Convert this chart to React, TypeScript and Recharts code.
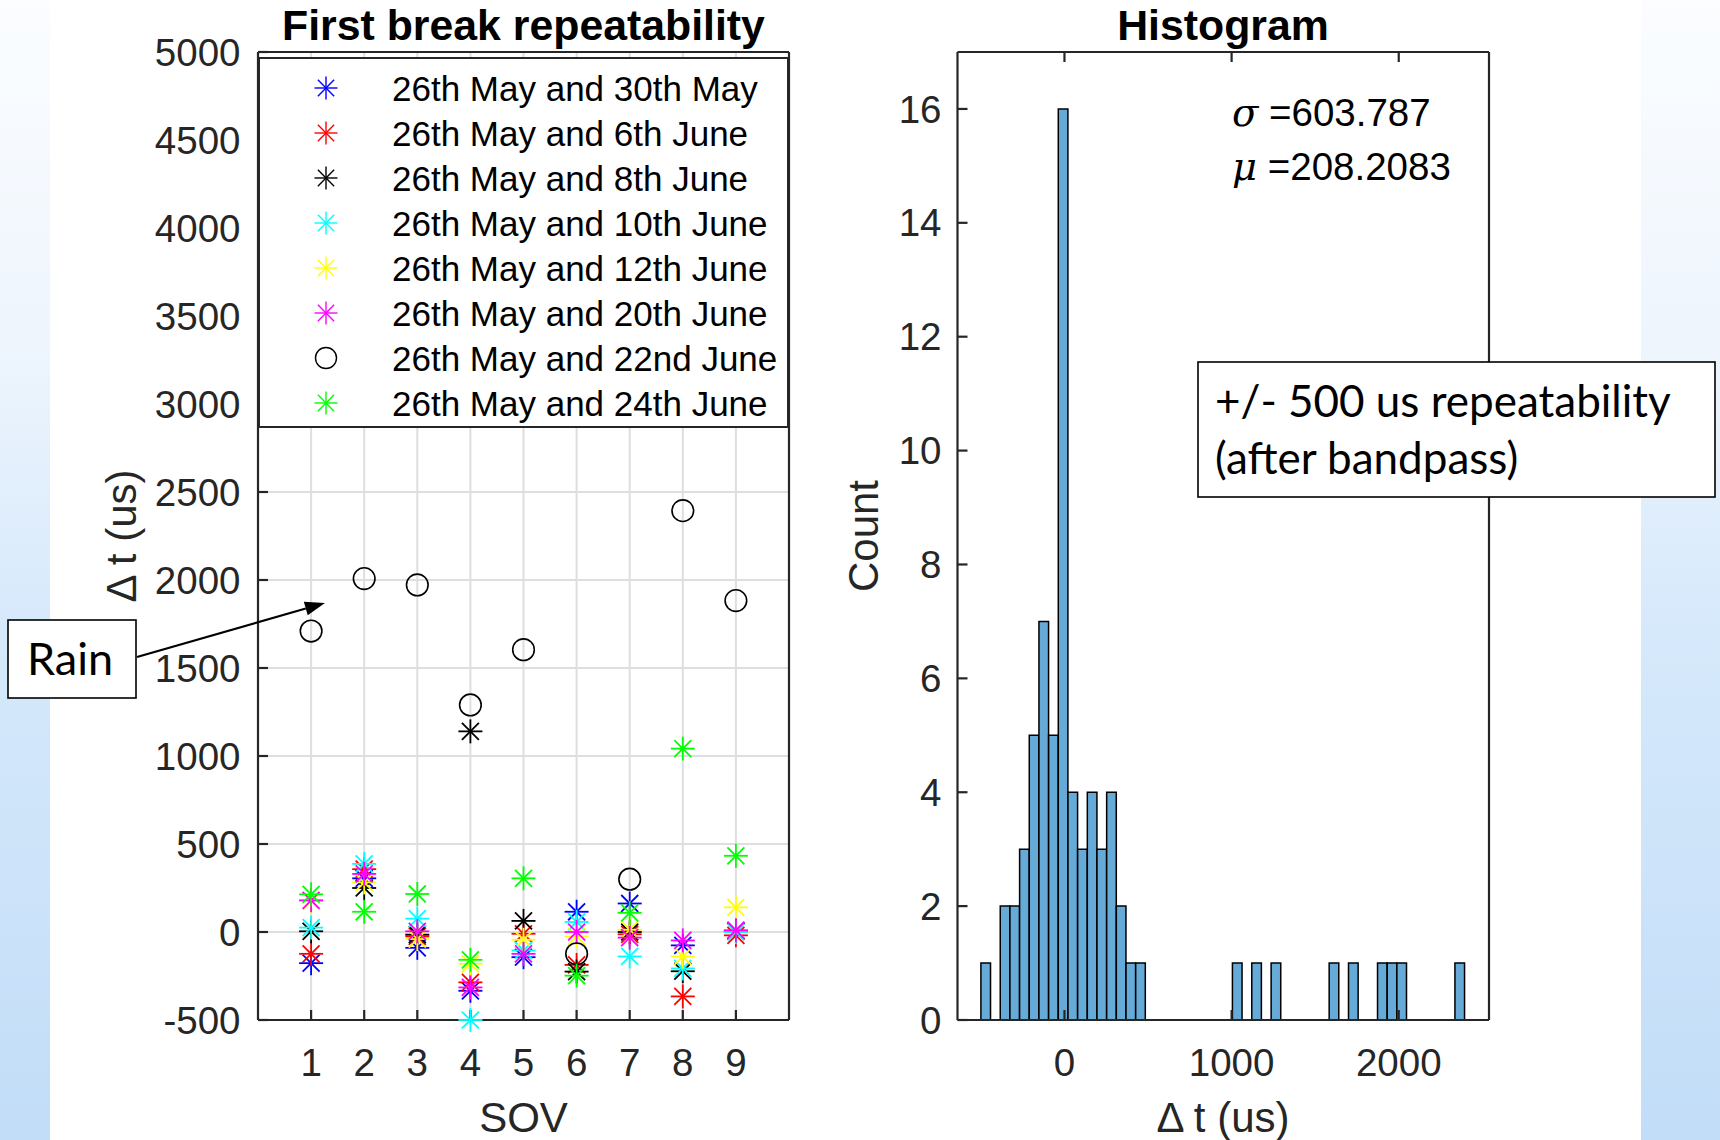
import {
  ScatterChart,
  Scatter,
  BarChart,
  Bar,
  XAxis,
  YAxis,
  CartesianGrid,
  Legend,
} from "recharts";

// SOV index on the x axis
const sovs = [1, 2, 3, 4, 5, 6, 7, 8, 9];

// first break differences against the 26th May survey (us)
const may30 = [-177, 305, -90, -334, -143, 115, 162, -76, 4];
const jun6 = [-124, 357, -25, -286, -10, -187, -13, -366, -19];
const jun8 = [4, 250, -15, 1140, 63, -225, 0, -223, 6];
const jun10 = [25, 387, 76, -500, -105, 57, -139, -207, 0];
const jun12 = [175, 282, -40, -181, -44, -25, 13, -139, 140];
const jun20 = [180, 330, 4, -315, -124, 0, -32, -48, 10];
const jun22 = [1710, 2008, 1972, 1290, 1604, -124, 300, 2394, 1883];
const jun24 = [214, 115, 216, -158, 305, -248, 109, 1042, 433];

const dtTicks = [-500, 0, 500, 1000, 1500, 2000, 2500, 3000, 3500, 4000, 4500, 5000];

// histogram of all differences, 50 bins between min and max
const binStart = -500;
const binWidth = 57.88;
const histCounts = [
  1, 0, 2, 2, 3, 5, 7, 5, 16, 4,
  3, 4, 3, 4, 2, 1, 1, 0, 0, 0,
  0, 0, 0, 0, 0, 0, 1, 0, 1, 0,
  1, 0, 0, 0, 0, 0, 1, 0, 1, 0,
  0, 1, 1, 1, 0, 0, 0, 0, 0, 1,
];
const countTicks = [0, 2, 4, 6, 8, 10, 12, 14, 16];
const histTicks = [0, 1000, 2000];
const histDomain: [number, number] = [-640, 2540];
const sigma = "603.787";
const mu = "208.2083";

const series = [
  { name: "26th May and 30th May", color: "#0000ff", values: may30, circle: false },
  { name: "26th May and 6th June", color: "#ff0000", values: jun6, circle: false },
  { name: "26th May and 8th June", color: "#000000", values: jun8, circle: false },
  { name: "26th May and 10th June", color: "#00ffff", values: jun10, circle: false },
  { name: "26th May and 12th June", color: "#ffff00", values: jun12, circle: false },
  { name: "26th May and 20th June", color: "#ff00ff", values: jun20, circle: false },
  { name: "26th May and 22nd June", color: "#000000", values: jun22, circle: true },
  { name: "26th May and 24th June", color: "#00ff00", values: jun24, circle: false },
];

const histData = histCounts.map((count, i) => ({
  x: binStart + (i + 0.5) * binWidth,
  count,
}));

const FONT = "'Liberation Sans', Arial, Helvetica, sans-serif";
const NOTE_FONT = "Lato, 'Open Sans', sans-serif";
const INK = "#262626";
const axisLine = { stroke: INK, strokeWidth: 2.2 };
const tickLine = { stroke: INK, strokeWidth: 2.2 };
const tickText = { fontSize: 38.5, fill: INK, fontFamily: FONT };
const blank = () => "";

// histogram plot spans 957.5..1489 on the page
const histPlotWidth = 531.5;
const histBarSize =
  (binWidth * histPlotWidth) / (histDomain[1] - histDomain[0]) - 0.05;

function Asterisk({ cx, cy, color, r = 12, w = 1.8 }: any) {
  const d = r * 0.7071;
  return (
    <g stroke={color} strokeWidth={w} fill="none">
      <line x1={cx - r} y1={cy} x2={cx + r} y2={cy} />
      <line x1={cx} y1={cy - r} x2={cx} y2={cy + r} />
      <line x1={cx - d} y1={cy - d} x2={cx + d} y2={cy + d} />
      <line x1={cx - d} y1={cy + d} x2={cx + d} y2={cy - d} />
    </g>
  );
}

function Ring({ cx, cy }: any) {
  return <circle cx={cx} cy={cy} r={10.8} fill="none" stroke="#000" strokeWidth={1.6} />;
}

function LegendBox() {
  return (
    <div
      style={{
        width: 531,
        height: 371,
        boxSizing: "border-box",
        border: `2px solid ${INK}`,
        background: "#fff",
        paddingTop: 6.5,
        fontFamily: FONT,
        fontSize: 35,
        color: "#000",
      }}
    >
      {series.map((s) => (
        <div key={s.name} style={{ display: "flex", alignItems: "center", height: 45 }}>
          <svg width={26} height={26} style={{ marginLeft: 53, flex: "none" }}>
            {s.circle ? (
              <circle cx={13} cy={13} r={10.5} fill="none" stroke="#000" strokeWidth={1.4} />
            ) : (
              <Asterisk cx={13} cy={13} r={11.5} w={1.4} color={s.color} />
            )}
          </svg>
          <span style={{ marginLeft: 53, whiteSpace: "nowrap", lineHeight: "45px" }}>{s.name}</span>
        </div>
      ))}
    </div>
  );
}

// inward ticks: negative tickSize, with tickMargin pushing labels back outside
function RepeatabilityPlot() {
  return (
    <ScatterChart width={860} height={1140} margin={{ top: 51, right: 70, bottom: 0, left: 0 }}>
      <CartesianGrid xAxisId="b" yAxisId="l" stroke="#dedede" strokeWidth={2} />
      <XAxis
        xAxisId="b"
        type="number"
        dataKey="x"
        domain={[0, 10]}
        ticks={sovs}
        interval={0}
        height={120}
        tickSize={-10}
        tickMargin={39}
        tick={tickText}
        axisLine={axisLine}
        tickLine={tickLine}
      />
      <XAxis
        xAxisId="t"
        orientation="top"
        type="number"
        dataKey="x"
        domain={[0, 10]}
        ticks={sovs}
        interval={0}
        height={1}
        tickSize={-10}
        tickFormatter={blank}
        axisLine={axisLine}
        tickLine={tickLine}
      />
      <YAxis
        yAxisId="l"
        type="number"
        dataKey="y"
        domain={[-500, 5000]}
        ticks={dtTicks}
        interval={0}
        width={258}
        tickSize={-10}
        tickMargin={27.5}
        tick={tickText}
        axisLine={axisLine}
        tickLine={tickLine}
      />
      <YAxis
        yAxisId="r"
        orientation="right"
        type="number"
        domain={[-500, 5000]}
        ticks={dtTicks}
        interval={0}
        width={1}
        tickSize={-10}
        tickFormatter={blank}
        axisLine={axisLine}
        tickLine={tickLine}
      />
      {series.map((s) => (
        <Scatter
          key={s.name}
          name={s.name}
          xAxisId="b"
          yAxisId="l"
          data={sovs.map((x, i) => ({ x, y: s.values[i] }))}
          isAnimationActive={false}
          shape={(p: any) =>
            s.circle ? <Ring cx={p.cx} cy={p.cy} /> : <Asterisk cx={p.cx} cy={p.cy} color={s.color} />
          }
        />
      ))}
      <Legend
        layout="vertical"
        align="center"
        verticalAlign="middle"
        content={() => <LegendBox />}
        wrapperStyle={{ left: 258, top: 57, width: 531, height: 371 }}
      />
    </ScatterChart>
  );
}

function HistogramPlot() {
  return (
    <BarChart
      width={860}
      height={1140}
      data={histData}
      margin={{ top: 51, right: 230, bottom: 0, left: 0 }}
      barCategoryGap={0}
      barGap={0}
    >
      <XAxis
        xAxisId="b"
        type="number"
        dataKey="x"
        domain={histDomain}
        ticks={histTicks}
        interval={0}
        height={120}
        tickSize={-10}
        tickMargin={39}
        tick={tickText}
        axisLine={axisLine}
        tickLine={tickLine}
      />
      <XAxis
        xAxisId="t"
        orientation="top"
        type="number"
        dataKey="x"
        domain={histDomain}
        ticks={histTicks}
        interval={0}
        height={1}
        tickSize={-10}
        tickFormatter={blank}
        axisLine={axisLine}
        tickLine={tickLine}
      />
      <YAxis
        yAxisId="l"
        type="number"
        domain={[0, 17]}
        ticks={countTicks}
        interval={0}
        width={97.5}
        tickSize={-10}
        tickMargin={26}
        tick={tickText}
        axisLine={axisLine}
        tickLine={tickLine}
      />
      <YAxis
        yAxisId="r"
        orientation="right"
        type="number"
        domain={[0, 17]}
        ticks={countTicks}
        interval={0}
        width={1}
        tickSize={-10}
        tickFormatter={blank}
        axisLine={axisLine}
        tickLine={tickLine}
      />
      <Bar
        xAxisId="b"
        yAxisId="l"
        dataKey="count"
        fill="#66aad7"
        stroke="#000"
        strokeWidth={1.5}
        barSize={histBarSize}
        isAnimationActive={false}
      />
    </BarChart>
  );
}

const stripBg = "linear-gradient(to bottom, #fbfdff 0%, #eef5fd 30%, #d6e9fb 55%, #c2ddf8 100%)";

export default function App() {
  const ax = 137;
  const ay = 657;
  const bx = 325;
  const by = 603;
  const ang = Math.atan2(by - ay, bx - ax);
  const hl = 20;
  const hw = 7;
  const baseX = bx - hl * Math.cos(ang);
  const baseY = by - hl * Math.sin(ang);
  const head = [
    [bx, by],
    [baseX - hw * Math.sin(ang), baseY + hw * Math.cos(ang)],
    [baseX + hw * Math.sin(ang), baseY - hw * Math.cos(ang)],
  ]
    .map((p) => p.join(","))
    .join(" ");

  return (
    <div
      style={{
        position: "absolute",
        left: 0,
        top: 0,
        width: 1720,
        height: 1140,
        background: "#fff",
        overflow: "hidden",
      }}
    >
      <div style={{ position: "absolute", left: 0, top: 0, width: 50, height: 1140, background: stripBg }} />
      <div style={{ position: "absolute", left: 1641, top: 0, width: 79, height: 1140, background: stripBg }} />

      <div style={{ position: "absolute", left: 0, top: 0 }}>
        <RepeatabilityPlot />
      </div>
      <div style={{ position: "absolute", left: 860, top: 0 }}>
        <HistogramPlot />
      </div>

      <svg
        width={1720}
        height={1140}
        style={{ position: "absolute", left: 0, top: 0, pointerEvents: "none" }}
        fontFamily={FONT}
      >
        <text x={523.5} y={40} textAnchor="middle" fontSize={42.8} fontWeight="bold" fill="#000">
          First break repeatability
        </text>
        <text x={1223} y={40} textAnchor="middle" fontSize={42.8} fontWeight="bold" fill="#000">
          Histogram
        </text>
        <text x={523.5} y={1132} textAnchor="middle" fontSize={42} fill={INK}>
          SOV
        </text>
        <text x={1223} y={1132} textAnchor="middle" fontSize={42} fill={INK}>
          Δ t (us)
        </text>
        <text transform="translate(135.5,536) rotate(-90)" textAnchor="middle" fontSize={42} fill={INK}>
          Δ t (us)
        </text>
        <text transform="translate(878,536) rotate(-90)" textAnchor="middle" fontSize={42} fill={INK}>
          Count
        </text>

        <text x={1232} y={126} fontSize={38.5} fill="#000">
          <tspan fontFamily="'DejaVu Serif', 'Liberation Serif', serif" fontStyle="italic">σ</tspan>
          <tspan> ={sigma}</tspan>
        </text>
        <text x={1232} y={180} fontSize={38.5} fill="#000">
          <tspan fontFamily="'DejaVu Serif', 'Liberation Serif', serif" fontStyle="italic">μ</tspan>
          <tspan> ={mu}</tspan>
        </text>

        <line x1={ax} y1={ay} x2={baseX} y2={baseY} stroke="#000" strokeWidth={2.2} />
        <polygon points={head} fill="#000" />
        <rect x={8} y={620} width={128} height={78} fill="#fff" stroke="#000" strokeWidth={1.6} />
        <text x={70} y={675} textAnchor="middle" fontSize={45} fontFamily={NOTE_FONT} fill="#000">
          Rain
        </text>

        <rect x={1198} y={362} width={517} height={135} fill="#fff" stroke="#000" strokeWidth={1.6} />
        <text x={1215} y={417} fontSize={44} fontFamily={NOTE_FONT} fill="#000">
          +/- 500 us repeatability
        </text>
        <text x={1215} y={474} fontSize={44} fontFamily={NOTE_FONT} fill="#000">
          (after bandpass)
        </text>
      </svg>
    </div>
  );
}
